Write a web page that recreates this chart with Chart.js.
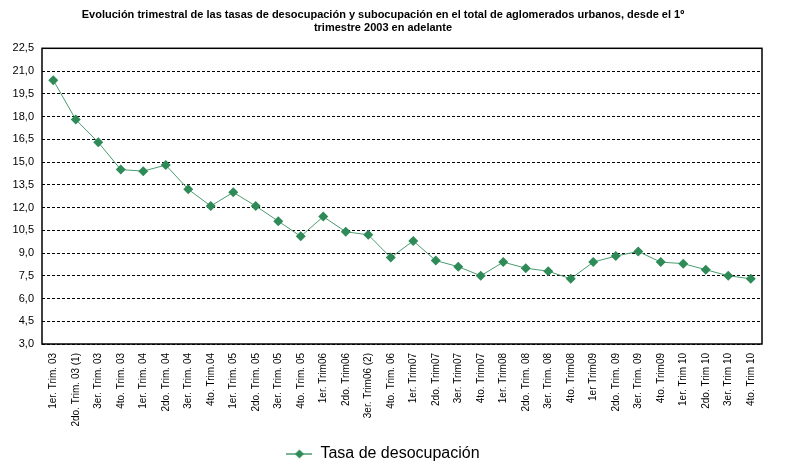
<!DOCTYPE html>
<html>
<head>
<meta charset="utf-8">
<script src="https://cdn.jsdelivr.net/npm/chart.js@4.4.0/dist/chart.umd.min.js"></script>
<style>
  html, body { margin: 0; padding: 0; background: #fff; }
  #wrap { width: 793px; height: 467px; position: relative; }
</style>
</head>
<body>
<div id="wrap"><canvas id="desocupacionChart"></canvas></div>
<script>
// Trimestres (eje X)
var trimestres = [
    '1er. Trim. 03', '2do. Trim. 03 (1)', '3er. Trim. 03', '4to. Trim. 03',
    '1er. Trim. 04', '2do. Trim. 04', '3er. Trim. 04', '4to. Trim.04',
    '1er. Trim. 05', '2do. Trim. 05', '3er. Trim. 05', '4to. Trim. 05',
    '1er. Trim06', '2do. Trim06', '3er. Trim06 (2)', '4to. Trim. 06',
    '1er. Trim07', '2do. Trim07', '3er. Trim07', '4to. Trim07',
    '1er. Trim08', '2do. Trim. 08', '3er. Trim. 08', '4to. Trim08',
    '1er Trim09', '2do. Trim. 09', '3er. Trim. 09', '4to. Trim09',
    '1er. Trim 10', '2do. Trim 10', '3er. Trim 10', '4to. Trim 10'
];

// Tasa de desocupación (%)
var tasaDesocupacion = [
    20.4, 17.8, 16.3, 14.5,
    14.4, 14.8, 13.2, 12.1,
    13.0, 12.1, 11.1, 10.1,
    11.4, 10.4, 10.2, 8.7,
    9.8, 8.5, 8.1, 7.5,
    8.4, 8.0, 7.8, 7.3,
    8.4, 8.8, 9.1, 8.4,
    8.3, 7.9, 7.5, 7.3
];

var tituloLineas = [
    'Evolución trimestral de las tasas de desocupación y subocupación en el total de aglomerados urbanos, desde el 1º',
    'trimestre 2003 en adelante'
];

var verde = '#2e8b57';
var verdeLinea = '#4c9c70';

// little line + diamond icon for the legend
var legendIcon = document.createElement('canvas');
legendIcon.width = 26;
legendIcon.height = 12;
(function () {
    var c = legendIcon.getContext('2d');
    c.strokeStyle = verdeLinea;
    c.lineWidth = 1.5;
    c.beginPath();
    c.moveTo(0, 6);
    c.lineTo(26, 6);
    c.stroke();
    c.fillStyle = verde;
    c.beginPath();
    c.moveTo(13, 1.5);
    c.lineTo(17.5, 6);
    c.lineTo(13, 10.5);
    c.lineTo(8.5, 6);
    c.closePath();
    c.fill();
})();

// solid frame around the plot area
var plotFrame = {
    id: 'plotFrame',
    afterDatasetsDraw: function (chart) {
        var a = chart.chartArea;
        var ctx = chart.ctx;
        ctx.save();
        ctx.strokeStyle = '#000';
        ctx.lineWidth = 1.5;
        ctx.strokeRect(a.left, a.top, a.right - a.left, a.bottom - a.top);
        ctx.restore();
    }
};

var fontBase = "Arial, 'Liberation Sans', sans-serif";

var ctx = document.getElementById('desocupacionChart').getContext('2d');
new Chart(ctx, {
    type: 'line',
    data: {
        labels: trimestres,
        datasets: [{
            label: 'Tasa de desocupación',
            data: tasaDesocupacion,
            borderColor: verdeLinea,
            borderWidth: 1,
            backgroundColor: verde,
            pointStyle: 'rectRot',
            pointRadius: 5,
            pointBorderWidth: 0,
            pointBackgroundColor: verde,
            tension: 0
        }]
    },
    options: {
        responsive: true,
        maintainAspectRatio: false,
        animation: false,
        layout: { padding: { top: 7, left: 4, right: 31, bottom: -5 } },
        plugins: {
            title: {
                display: true,
                text: tituloLineas,
                color: '#000',
                font: { family: fontBase, size: 11, weight: 'bold', lineHeight: 1.15 },
                padding: { top: 2, bottom: 14 }
            },
            legend: {
                position: 'bottom',
                labels: {
                    usePointStyle: true,
                    pointStyle: legendIcon,
                    pointStyleWidth: 26,
                    color: '#000',
                    font: { family: fontBase, size: 16 },
                    padding: 3
                }
            },
            tooltip: { enabled: false }
        },
        scales: {
            x: {
                offset: true,
                grid: { display: false, drawTicks: false },
                border: { display: false },
                ticks: {
                    color: '#000',
                    font: { family: fontBase, size: 10 },
                    maxRotation: 90,
                    minRotation: 90,
                    autoSkip: false,
                    padding: 9
                },
                afterFit: function (scale) { scale.height = 99; }
            },
            y: {
                min: 3,
                max: 22.5,
                grid: {
                    color: '#000',
                    lineWidth: 1,
                    drawTicks: false
                },
                border: { display: false, dash: [3, 2] },
                ticks: {
                    stepSize: 1.5,
                    color: '#000',
                    font: { family: fontBase, size: 11 },
                    padding: 8,
                    callback: function (v) { return v.toFixed(1).replace('.', ','); }
                },
                afterFit: function (scale) { scale.width = 38; }
            }
        }
    },
    plugins: [plotFrame]
});
</script>
</body>
</html>
